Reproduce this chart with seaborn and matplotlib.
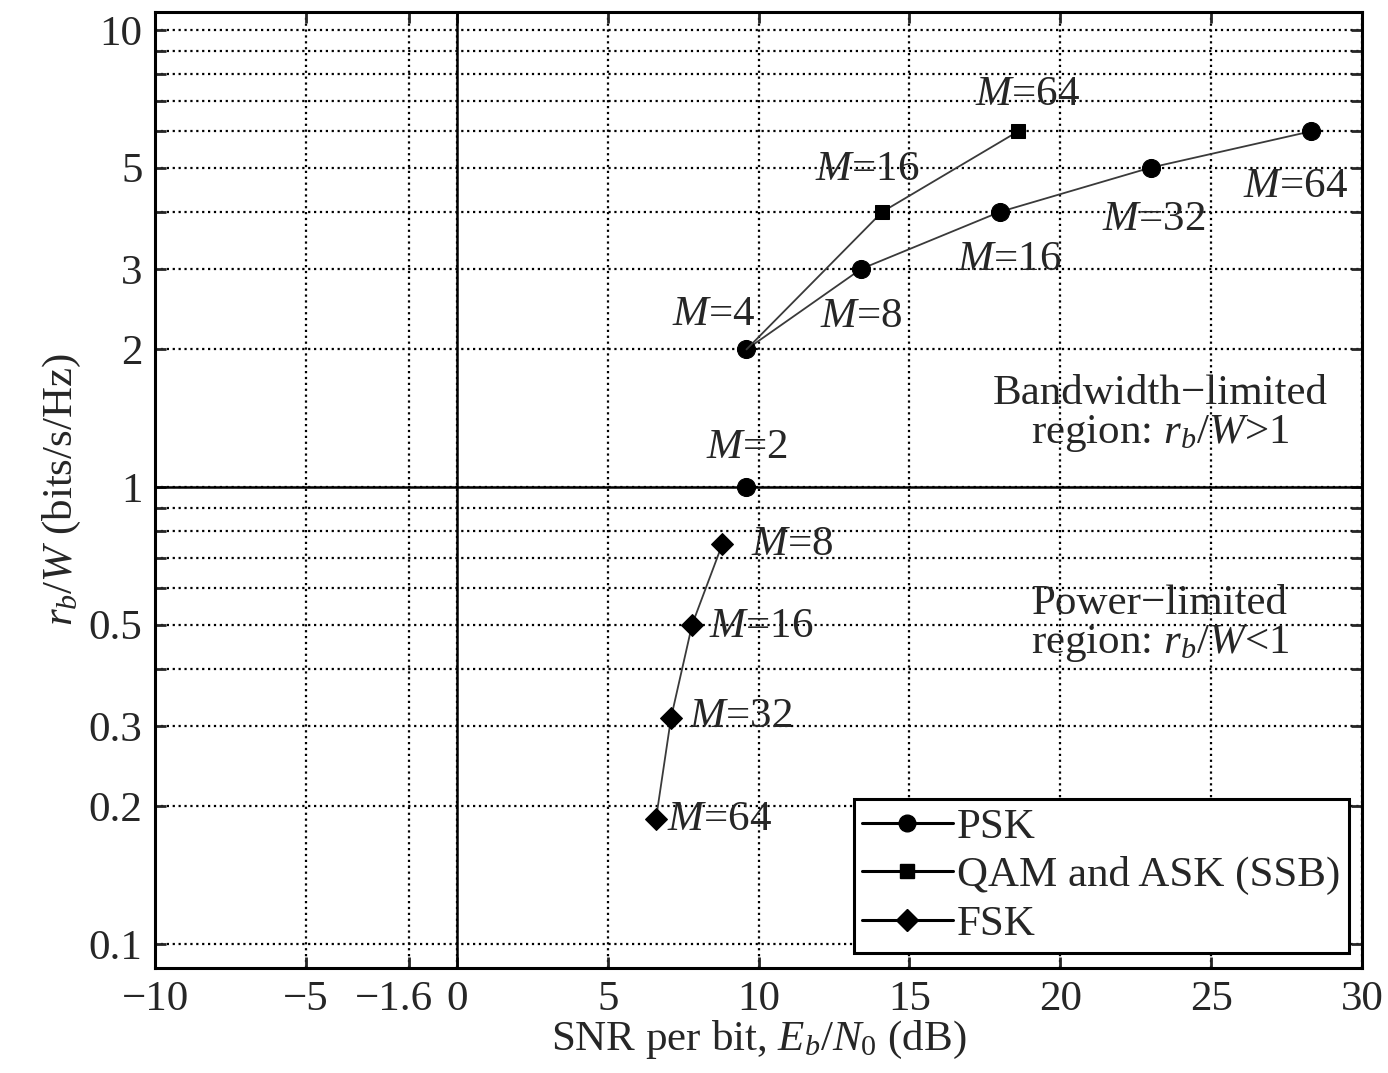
import pandas as pd
import seaborn as sns
import matplotlib.pyplot as plt
import matplotlib.transforms as mtransforms
from matplotlib.lines import Line2D

# data
psk_M = [2, 4, 8, 16, 32, 64]
psk_snr = [9.6, 9.6, 13.4, 18.0, 23.0, 28.3]
psk_rate = [1, 2, 3, 4, 5, 6]

qam_M = [4, 16, 64]
qam_snr = [9.6, 14.1, 18.6]
qam_rate = [2, 4, 6]

fsk_M = [8, 16, 32, 64]
fsk_snr = [8.8, 7.8, 7.1, 6.6]
fsk_rate = [0.75, 0.5, 0.3125, 0.1875]

x_ticks = [-10, -5, -1.6, 0, 5, 10, 15, 20, 25, 30]
x_labels = ['\u221210', '\u22125', '\u22121.6', '0', '5', '10', '15', '20', '25', '30']
y_ticks = [0.1, 0.2, 0.3, 0.4, 0.5, 0.6, 0.7, 0.8, 0.9, 1, 2, 3, 4, 5, 6, 7, 8, 9, 10]
y_labels = ['0.1', '0.2', '0.3', '', '0.5', '', '', '', '', '1', '2', '3', '', '5', '', '', '', '', '10']

sns.set_style('ticks')
plt.rcParams['font.family'] = ['Liberation Serif', 'DejaVu Serif']
plt.rcParams['mathtext.fontset'] = 'custom'
plt.rcParams['mathtext.rm'] = 'Liberation Serif'
plt.rcParams['mathtext.it'] = 'Liberation Serif:italic'
FS = 31

df_psk = pd.DataFrame({'snr': psk_snr, 'rate': psk_rate, 'M': psk_M})
df_qam = pd.DataFrame({'snr': qam_snr, 'rate': qam_rate, 'M': qam_M})
df_fsk = pd.DataFrame({'snr': fsk_snr, 'rate': fsk_rate, 'M': fsk_M})

fig = plt.figure(figsize=(13.88, 10.73), dpi=100)
ax = fig.add_axes([0.1117, 0.0979, 0.8696, 0.8909])

line_kw = dict(color='#3a3a3a', linewidth=1.3, markeredgecolor='black',
               markerfacecolor='black', estimator=None, sort=False)
sns.lineplot(x='snr', y='rate', data=df_psk.iloc[1:], marker='o', markersize=13, ax=ax, **line_kw)
sns.lineplot(x='snr', y='rate', data=df_psk.iloc[:1], marker='o', markersize=13, ax=ax, **line_kw)
sns.lineplot(x='snr', y='rate', data=df_qam, marker='s', markersize=10, markevery=[1, 2], ax=ax, **line_kw)
sns.lineplot(x='snr', y='rate', data=df_fsk, marker='D', markersize=11, ax=ax, **line_kw)

ax.set_yscale('log')
ax.set_xlim(-10, 30)
ax.set_ylim(0.0886, 10.95)
ax.set_xticks(x_ticks)
ax.set_xticklabels(x_labels, fontsize=FS)
ax.set_yticks(y_ticks)
ax.set_yticklabels(y_labels, fontsize=FS)
ax.minorticks_off()
ax.tick_params(direction='in', top=True, right=True, length=8, width=2, pad=9)
ax.grid(True, linestyle=':', color='black', linewidth=1.6)
for s in ax.spines.values():
    s.set_linewidth(2.2)
    s.set_color('black')

# nudge the -1.6 label left so it clears the 0
lab = ax.get_xticklabels()[2]
lab.set_transform(lab.get_transform() + mtransforms.ScaledTranslation(-0.15, 0, fig.dpi_scale_trans))

ax.axvline(0, color='black', linewidth=1.8)
ax.axhline(1, color='black', linewidth=1.8)

# point labels
ann = [
    (18.9, 7.2, '64'), (13.6, 4.95, '16'),
    (8.5, 2.38, '4'), (13.4, 2.36, '8'), (18.3, 3.14, '16'), (23.1, 3.84, '32'),
    (27.8, 4.53, '64'), (9.6, 1.22, '2'),
    (11.1, 0.746, '8'), (10.1, 0.494, '16'), (9.4, 0.314, '32'), (8.7, 0.187, '64'),
]
for x, y, m in ann:
    ax.text(x, y, '$M$=' + m, fontsize=FS, ha='center', va='center')

ax.text(23.3, 1.44, 'Bandwidth\u2212limited\nregion: $r_b/W$>1', fontsize=FS,
        ha='center', va='center', multialignment='center', linespacing=1.0)
ax.text(23.3, 0.5, 'Power\u2212limited\nregion: $r_b/W$<1', fontsize=FS,
        ha='center', va='center', multialignment='center', linespacing=1.0)

ax.set_xlabel('SNR per bit, $E_b/N_0$ (dB)', fontsize=FS, labelpad=0)
ax.set_ylabel('$r_b/W$ (bits/s/Hz)', fontsize=FS, labelpad=4)

handles = [Line2D([], [], color='black', lw=2.2, marker=mk, markersize=sz)
           for mk, sz in [('o', 12), ('s', 10), ('D', 11)]]
leg = ax.legend(handles, ['PSK', 'QAM and ASK (SSB)', 'FSK'], loc='lower right',
                bbox_to_anchor=(0.989, 0.016), borderaxespad=0, fontsize=FS,
                fancybox=False, framealpha=1, edgecolor='black', handlelength=2.1,
                handletextpad=0.1, labelspacing=0.22, borderpad=0.2)
leg.get_frame().set_linewidth(2.2)

plt.savefig('out.png', dpi=100)
